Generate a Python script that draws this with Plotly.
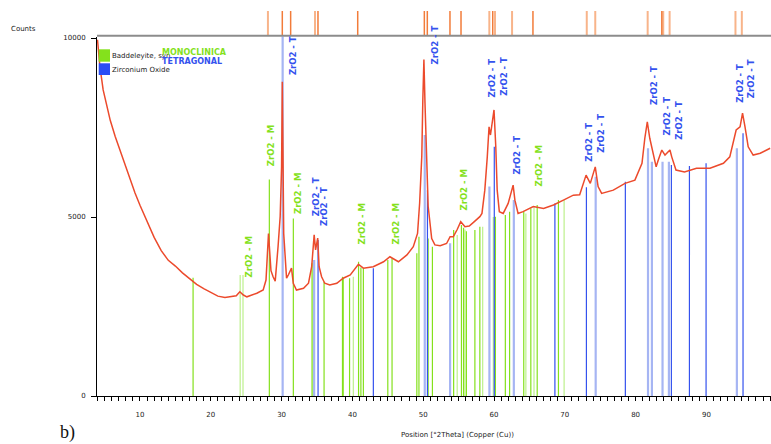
import plotly.graph_objects as go

# ---------------- data ----------------
# measured pattern (2theta, counts)
curve_x = [4.0, 4.35, 4.8, 5.3, 5.8, 6.5, 7.2, 8.0, 8.6, 9.3, 10.0, 11.0, 12.0, 13.0, 14.0, 15.0,
           16.0, 17.0, 18.0, 19.0, 20.0, 21.0, 22.0, 22.7, 23.6, 24.1, 24.6, 25.1, 26.5, 27.4, 27.8,
           28.15, 28.5, 28.8, 29.1, 29.5, 29.8,
           30.0, 30.1, 30.3, 30.5, 30.7, 30.95, 31.4, 31.65, 32.1, 33.1, 33.8, 34.25, 34.6, 34.8,
           35.1, 35.3, 35.65, 36.1, 36.8, 37.8, 38.7, 39.7, 40.85, 41.55, 42.95, 44.4, 45.3, 46.5,
           47.7, 48.6, 49.2, 49.5, 49.8, 49.95, 50.1, 50.25, 50.45, 50.7, 51.2, 51.65, 52.4, 53.3,
           53.8, 54.25, 54.8, 55.3, 55.9, 56.5, 57.1, 58.0, 58.3, 58.7, 59.05, 59.3, 59.5, 59.75,
           60.0, 60.25, 60.45, 60.75, 61.3, 62.0, 62.5, 62.7, 62.95, 63.4, 64.1, 65.55, 67.0, 68.4,
           69.8, 71.2, 72.1, 73.0, 73.6, 74.3, 74.7, 75.2, 76.85, 78.5, 79.9, 80.9, 81.3, 81.65,
           82.0, 82.5, 82.9, 83.2, 83.7, 84.15, 84.85, 85.1, 85.7, 86.9, 88.6, 90.5, 92.4, 93.3,
           94.2, 94.75, 95.1, 95.45, 95.9, 96.6, 97.6, 99.0]
curve_y = [9950, 9190, 8550, 8080, 7700, 7250, 6850, 6380, 6040, 5670, 5330, 4870, 4430, 4060, 3790, 3630,
           3440, 3280, 3120, 3000, 2900, 2790, 2750, 2770, 2800, 2910, 2820, 2770, 2870, 2960, 3240,
           4540, 3500, 3330, 3210, 4170, 5010,
           6400, 8780, 4540, 3800, 3290, 3380, 3570, 3150, 2960, 3010, 3150, 3610, 4500, 4080,
           4410, 3610, 3330, 3150, 3100, 3150, 3290, 3380, 3680, 3570, 3610, 3750, 3890, 3750,
           3940, 4170, 4540, 5400, 6700, 8300, 9400, 8200, 7000, 5300, 4400, 4220, 4200, 4260,
           4450, 4450, 4650, 4870, 4730, 4750, 4850, 5010, 5100, 5750, 6680, 7520, 7290, 7610,
           7990, 6960, 5750, 5150, 5100, 5380, 5750, 5890, 5470, 5100, 5150, 5290, 5240, 5335,
           5470, 5610, 5620, 6170, 5940, 6400, 5850, 5660, 5750, 5940, 6030, 6500, 7200, 7660,
           7200, 6730, 6400, 6590, 6870, 6730, 6870, 6680, 6310, 6260, 6360, 6360, 6500, 6680,
           7430, 7520, 7900, 7520, 6960, 6730, 6780, 6920]

# Baddeleyite (monoclinic) reference sticks
mono_pos = [17.5, 28.27, 31.66, 34.3, 36.0, 38.6, 38.7, 39.6, 40.87, 41.2, 41.55, 45.0, 45.6,
            49.1, 49.4, 50.7, 51.3, 54.3, 55.4, 55.7, 56.1, 57.3, 58.0, 60.2, 61.6, 62.2,
            64.2, 65.2, 66.1, 69.1]
mono_int = [3300, 6050, 4960, 3710, 3190, 3330, 3300, 3290, 3750, 3590, 3560, 3800, 3850,
            3985, 4450, 4400, 4170, 4640, 4776, 4700, 4600, 4640, 4730, 5010, 5055, 5150,
            5150, 5240, 5335, 5475]
mono_weak_pos = [24.15, 24.55, 34.45, 40.13, 54.8, 55.9, 58.4, 59.9, 64.5, 65.65, 69.9]
mono_weak_int = [3380, 3380, 3800, 3330, 4500, 4650, 4730, 5000, 5100, 5290, 5475]

# Zirconium oxide (tetragonal) reference sticks
tetra_pos = [35.15, 42.96, 50.6, 60.04, 68.6, 73.05, 78.55, 85.05, 87.6, 89.95, 95.17]
tetra_int = [4360, 3570, 5750, 6960, 5380, 5830, 5985, 6450, 6425, 6500, 7340]
tetra_weak_pos = [30.15, 34.6, 50.22, 53.8, 59.35, 62.8, 74.36, 81.75, 82.3, 83.8, 84.7, 94.3]
tetra_weak_int = [10500, 3800, 7290, 4265, 5850, 5475, 6125, 6920, 6545, 6545, 6545, 6920]

# peak list (top strip)
peaks_strong = [30.1, 31.28, 35.14, 40.75, 50.16, 50.58, 53.78, 55.34, 59.82, 65.5, 83.7]
peaks_weak = [28.07, 34.72, 59.34, 60.14, 62.55, 73.1, 74.3, 81.7, 83.9, 84.8, 94.1, 95.0]

# phase labels: (phase, 2theta, counts at label start)
label_phase = ['M', 'M', 'T', 'M', 'T', 'T', 'M', 'M', 'T', 'M', 'T', 'T', 'T', 'M',
               'T', 'T', 'T', 'T', 'T', 'T', 'T']
label_x = [25.35, 28.6, 31.6, 32.4, 34.8, 35.9, 41.35, 46.15, 51.7, 55.8, 59.7, 61.3, 63.3, 66.3,
           73.4, 75.0, 82.5, 84.4, 86.2, 94.8, 96.4]
label_y = [3260, 6370, 8920, 5030, 4970, 4690, 4190, 4190, 9200, 5120, 8290, 8320, 6125, 5800,
           6500, 6730, 8070, 7225, 7100, 8130, 8270]

GREEN = '#84E11C'
GREEN_L = '#BDF08C'
BLUE = '#3452EE'
BLUE_L = '#A6B5F3'
RED = '#EC4A2C'
OR_D = '#F27C3A'
OR_L = '#F8B48A'
FONT = 'DejaVu Sans'


def sticks(pos, hts):
    xs, ys = [], []
    for p, h in zip(pos, hts):
        xs += [p, p, None]
        ys += [0, h, None]
    return xs, ys


fig = go.Figure()


def add_sticks(pos, hts, color, width, yaxis='y'):
    xs, ys = sticks(pos, hts)
    fig.add_trace(go.Scatter(x=xs, y=ys, mode='lines', line=dict(color=color, width=width),
                             hoverinfo='skip', showlegend=False, yaxis=yaxis))


add_sticks(mono_weak_pos, mono_weak_int, GREEN_L, 1.2)
add_sticks(mono_pos, mono_int, GREEN, 1.2)
add_sticks(tetra_weak_pos, tetra_weak_int, BLUE_L, 2.2)
add_sticks(tetra_pos, tetra_int, BLUE, 1.2)

fig.add_trace(go.Scatter(x=curve_x, y=curve_y, mode='lines', line=dict(color=RED, width=1.5),
                         hoverinfo='skip', showlegend=False))

add_sticks(peaks_weak, [1] * len(peaks_weak), OR_L, 2, 'y2')
add_sticks(peaks_strong, [1] * len(peaks_strong), OR_D, 1.5, 'y2')

W, H = 771, 444
ML, MR, MT, MB = 97, 0, 8, 48
PH = H - MT - MB  # 388
PW = W - ML - MR


def px(xp):
    return (xp - ML) / PW


def py(yp):
    return (H - MB - yp) / PH


ann = []
for ph, lx, ly in zip(label_phase, label_x, label_y):
    ann.append(dict(x=lx, y=ly, xref='x', yref='y', text='<b>ZrO2 - %s</b>' % ph, showarrow=False,
                    textangle=-90, xanchor='center', yanchor='bottom',
                    font=dict(family=FONT, size=8.5, color=GREEN if ph == 'M' else BLUE)))

small = dict(family=FONT, size=7, color='#222222')
ann += [
    dict(x=px(9), y=py(28.7), xref='paper', yref='paper', text='Counts', showarrow=False,
         xanchor='left', yanchor='middle', font=small),
    dict(x=px(110), y=py(55.8), xref='paper', yref='paper', text='Baddeleyite, syn', showarrow=False,
         xanchor='left', yanchor='middle', font=small),
    dict(x=px(110), y=py(70), xref='paper', yref='paper', text='Zirconium Oxide', showarrow=False,
         xanchor='left', yanchor='middle', font=small),
    dict(x=px(159.5), y=py(52), xref='paper', yref='paper', text='<b>MONOCLINICA</b>', showarrow=False,
         xanchor='left', yanchor='middle', font=dict(family=FONT, size=8, color=GREEN)),
    dict(x=px(160), y=py(61.7), xref='paper', yref='paper', text='<b>TETRAGONAL</b>', showarrow=False,
         xanchor='left', yanchor='middle', font=dict(family=FONT, size=8, color=BLUE)),
    dict(x=px(398.5), y=py(435.3), xref='paper', yref='paper', text='Position [°2Theta] (Copper (Cu))',
         showarrow=False, xanchor='left', yanchor='middle', font=small),
    dict(x=px(58), y=py(445), xref='paper', yref='paper', text='b)', showarrow=False,
         xanchor='left', yanchor='bottom', font=dict(family='Liberation Serif', size=18, color='#111111')),
]

shapes = [
    dict(type='rect', xref='paper', yref='paper', x0=px(98.7), x1=px(110), y0=py(61.7), y1=py(49.3),
         fillcolor=GREEN, line=dict(width=0)),
    dict(type='rect', xref='paper', yref='paper', x0=px(98.7), x1=px(110), y0=py(75), y1=py(63.3),
         fillcolor='#2A4DF5', line=dict(width=0)),
    dict(type='line', xref='paper', yref='paper', x0=0, x1=1, y0=py(35.8), y1=py(35.8),
         line=dict(color='#8C8C8C', width=2)),
]

fig.update_layout(
    width=W, height=H, margin=dict(l=ML, r=MR, t=MT, b=MB),
    paper_bgcolor='white', plot_bgcolor='white',
    showlegend=False,
    annotations=ann, shapes=shapes,
    xaxis=dict(range=[3.93, 99.12], showline=True, linecolor='black', linewidth=1,
               ticks='outside', ticklen=4, tickcolor='black', tick0=0, dtick=10,
               minor=dict(dtick=1, ticks='outside', ticklen=4, tickcolor='black'),
               showgrid=False, zeroline=False, tickfont=small, anchor='y',
               ticklabelstandoff=8),
    yaxis=dict(domain=[0, py(36.5)], range=[0, 10000 * (396 - 36.5) / 358.0],
               tickvals=[0, 5000, 10000], ticktext=['0', '5000', '10000'],
               ticks='outside', ticklen=5, tickcolor='black',
               showline=True, linecolor='black', linewidth=1, showgrid=False, zeroline=False,
               tickfont=small, anchor='x', ticklabelstandoff=4),
    yaxis2=dict(domain=[py(35), py(11)], range=[0, 1], visible=False, anchor='x'),
)

fig.write_html('out.html')
